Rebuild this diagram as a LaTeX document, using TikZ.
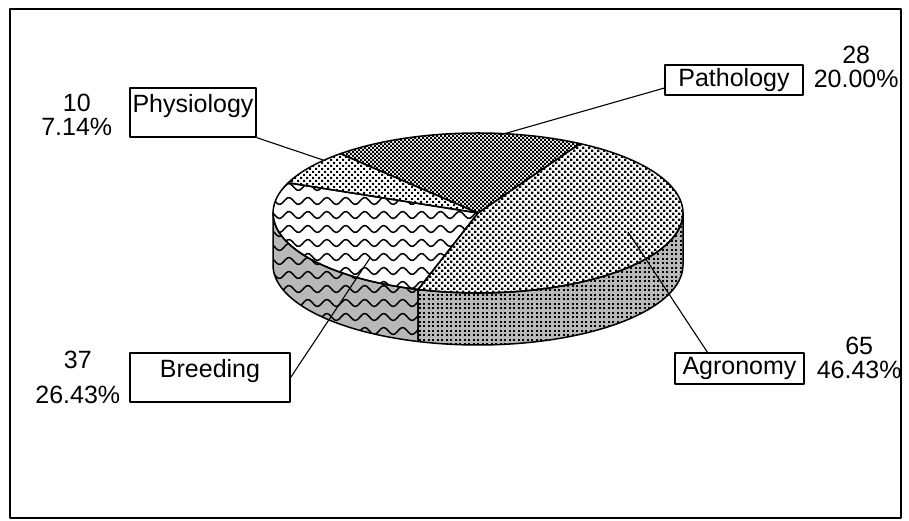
\documentclass[tikz,border=0pt]{standalone}
\usepackage{fontspec}
\setmainfont{Liberation Sans}
\usetikzlibrary{patterns}
\usetikzlibrary{positioning}

% fill patterns of the slices
\pgfdeclarepatternformonly{finecheck}{\pgfqpoint{-0.1pt}{-0.1pt}}{\pgfqpoint{4.1pt}{4.1pt}}{\pgfqpoint{4pt}{4pt}}{%
  \pgfpathrectangle{\pgfpointorigin}{\pgfqpoint{2.2pt}{2.2pt}}%
  \pgfpathrectangle{\pgfqpoint{2pt}{2pt}}{\pgfqpoint{2.2pt}{2.2pt}}%
  \pgfusepath{fill}}
\pgfdeclarepatternformonly{crossdots}{\pgfqpoint{-0.1pt}{-0.1pt}}{\pgfqpoint{6.1pt}{6.1pt}}{\pgfqpoint{6pt}{6pt}}{%
  \pgfpathrectangle{\pgfpointorigin}{\pgfqpoint{2.4pt}{2.4pt}}%
  \pgfpathrectangle{\pgfqpoint{3pt}{3pt}}{\pgfqpoint{2.4pt}{2.4pt}}%
  \pgfusepath{fill}}
\pgfdeclarepatternformonly{sparsedots}{\pgfqpoint{-0.1pt}{-0.1pt}}{\pgfqpoint{6.1pt}{6.1pt}}{\pgfqpoint{6pt}{6pt}}{%
  \pgfpathrectangle{\pgfpointorigin}{\pgfqpoint{2pt}{2pt}}%
  \pgfpathrectangle{\pgfqpoint{3pt}{3pt}}{\pgfqpoint{2pt}{2pt}}%
  \pgfusepath{fill}}
\pgfdeclarepatternformonly{griddots}{\pgfqpoint{-0.1pt}{-0.1pt}}{\pgfqpoint{4.6pt}{4.6pt}}{\pgfqpoint{4.5pt}{4.5pt}}{%
  \pgfpathrectangle{\pgfpointorigin}{\pgfqpoint{2pt}{2pt}}%
  \pgfusepath{fill}}

\begin{document}
\begin{tikzpicture}[x=1pt, y=1pt, line join=round,
	edge/.style={line width=1.5pt},
	side/.style={edge, preaction={fill=black!28}},
	wave/.style={line width=1.5pt},
	lbox/.style={draw, line width=1.2pt, font=\fontsize{25}{24}\selectfont, inner xsep=2pt, inner ysep=3.5pt, text height=18pt, text depth=5pt},
	tallbox/.style={draw, line width=1.2pt, font=\fontsize{25}{24}\selectfont, inner sep=0pt, text height=25pt, text depth=24pt},
	val/.style={align=center, inner sep=0pt, font=\fontsize{25}{24}\selectfont},
	leader/.style={line width=1.1pt}]
	\useasboundingbox (0,0) rectangle (909,521);
	\draw[line width=2pt] (10,3) rectangle (901,512);

	\coordinate (O) at (478,308);

	% side of the pie
	\draw[side] (O) ++(180:205 and 80) arc[start angle=180, end angle=253, x radius=205, y radius=80] -- ++(0,-52) arc[start angle=253, end angle=180, x radius=205, y radius=80] -- cycle;
	\begin{scope}
		\clip (O) ++(180:205 and 80) arc[start angle=180, end angle=253, x radius=205, y radius=80] -- ++(0,-52) arc[start angle=253, end angle=180, x radius=205, y radius=80] -- cycle;
		\foreach \y in {176,190,...,316}
			\draw[wave] plot[domain=265:425, samples=70] (\x, {\y+3.5*sin(19*\x)});
	\end{scope}
	\draw[side, pattern=griddots] (O) ++(253:205 and 80) arc[start angle=253, end angle=360, x radius=205, y radius=80] -- ++(0,-52) arc[start angle=360, end angle=253, x radius=205, y radius=80] -- cycle;

	% top of the pie
	\draw[edge, pattern=crossdots] (O) -- ++(-107:205 and 80) arc[start angle=-107, end angle=60.14, x radius=205, y radius=80] -- cycle;
	\draw[edge, pattern=finecheck] (O) -- ++(60.14:205 and 80) arc[start angle=60.14, end angle=132.14, x radius=205, y radius=80] -- cycle;
	\draw[edge, pattern=sparsedots] (O) -- ++(132.14:205 and 80) arc[start angle=132.14, end angle=157.86, x radius=205, y radius=80] -- cycle;
	\begin{scope}
		\clip (O) -- ++(157.86:205 and 80) arc[start angle=157.86, end angle=253, x radius=205, y radius=80] -- cycle;
		\foreach \y in {222,236,...,348}
			\draw[wave] plot[domain=265:485, samples=90] (\x, {\y+3.5*sin(19*\x)});
	\end{scope}
	\draw[edge] (O) -- ++(157.86:205 and 80) arc[start angle=157.86, end angle=253, x radius=205, y radius=80] -- cycle;

	% labels
	\node[lbox, minimum width=138pt] (patho) at (734,441) {Pathology};
	\node[val, right=10pt of patho, yshift=13pt] (pathoVal) {28\\20.00\%};
	\node[tallbox, minimum width=126pt] (physio) at (193,408.5) {Physiology};
	\node[val, left=17pt of physio, yshift=-2pt] (physioVal) {10\\7.14\%};
	\node[tallbox, minimum width=160pt] (breed) at (210,143.5) {Breeding};
	\node[val, left=9pt of breed] (breedVal) {37\\[11pt]26.43\%};
	\node[lbox, minimum width=129pt, minimum height=31pt] (agro) at (739.5,152.5) {Agronomy};
	\node[val, right=12pt of agro, yshift=11pt] (agroVal) {65\\46.43\%};

	% leader lines
	\coordinate (pathoPt) at (500,386);
	\coordinate (physioPt) at (323,361);
	\coordinate (breedPt) at (370,263);
	\coordinate (agroPt) at (628,289);
	\draw[leader] (pathoPt) -- ([yshift=-8pt]patho.west);
	\draw[leader] (physioPt) -- (physio.south east);
	\draw[leader] (breedPt) -- (breed.east);
	\draw[leader] (agroPt) -- ([xshift=-32pt]agro.north);
\end{tikzpicture}
\end{document}
